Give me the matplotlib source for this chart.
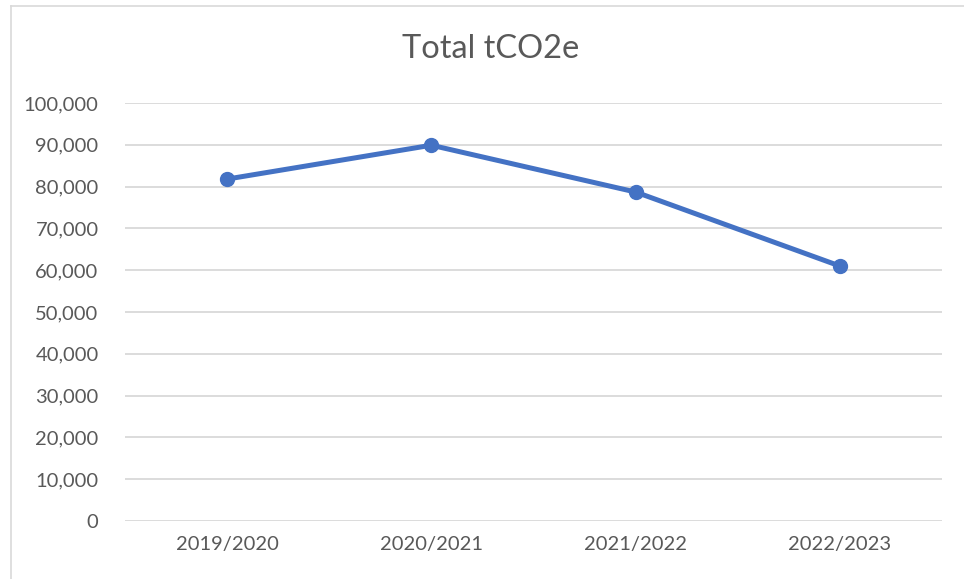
import matplotlib.pyplot as plt
from matplotlib.lines import Line2D
from matplotlib.ticker import FuncFormatter

# data
years = ['2019/2020', '2020/2021', '2021/2022', '2022/2023']
total_tco2e = [81800, 89900, 78700, 61000]
y_ticks = list(range(0, 100001, 10000))

text_col = '#595959'
grid_col = '#d9d9d9'

plt.rcParams['font.family'] = ['Lato', 'DejaVu Sans']

fig = plt.figure(figsize=(9.64, 5.79), dpi=100)
ax = fig.add_axes([125 / 964, 1 - 521 / 579, 817 / 964, 418 / 579])

x = list(range(len(years)))
ax.plot(x, total_tco2e, color='#4472C4', linewidth=3.6, marker='o',
        markersize=10, solid_capstyle='round', zorder=3)

ax.set_xlim(-0.5, len(years) - 0.5)
ax.set_ylim(0, 100000)
ax.set_yticks(y_ticks)
ax.yaxis.set_major_formatter(FuncFormatter(lambda v, p: f'{int(v):,}'))
ax.set_xticks(x)
ax.set_xticklabels(years)

ax.grid(axis='y', color=grid_col, linewidth=1.3)
ax.set_axisbelow(True)
for s in ax.spines.values():
    s.set_visible(False)
ax.tick_params(axis='both', length=0, labelsize=14.5, labelcolor=text_col)
ax.tick_params(axis='y', pad=19)
ax.tick_params(axis='x', pad=11)

fig.text(491 / 964, 1 - 49 / 579, 'Total tCO2e', ha='center', va='center',
         fontsize=23.5, color=text_col)

# chart border (only left and top visible in the crop)
fig.add_artist(Line2D([10.5 / 964, 10.5 / 964], [0, 1 - 5.5 / 579],
                      transform=fig.transFigure, color=grid_col, linewidth=1.2))
fig.add_artist(Line2D([10.5 / 964, 1], [1 - 5.5 / 579, 1 - 5.5 / 579],
                      transform=fig.transFigure, color=grid_col, linewidth=1.2))

fig.savefig('out.png', dpi=100)
